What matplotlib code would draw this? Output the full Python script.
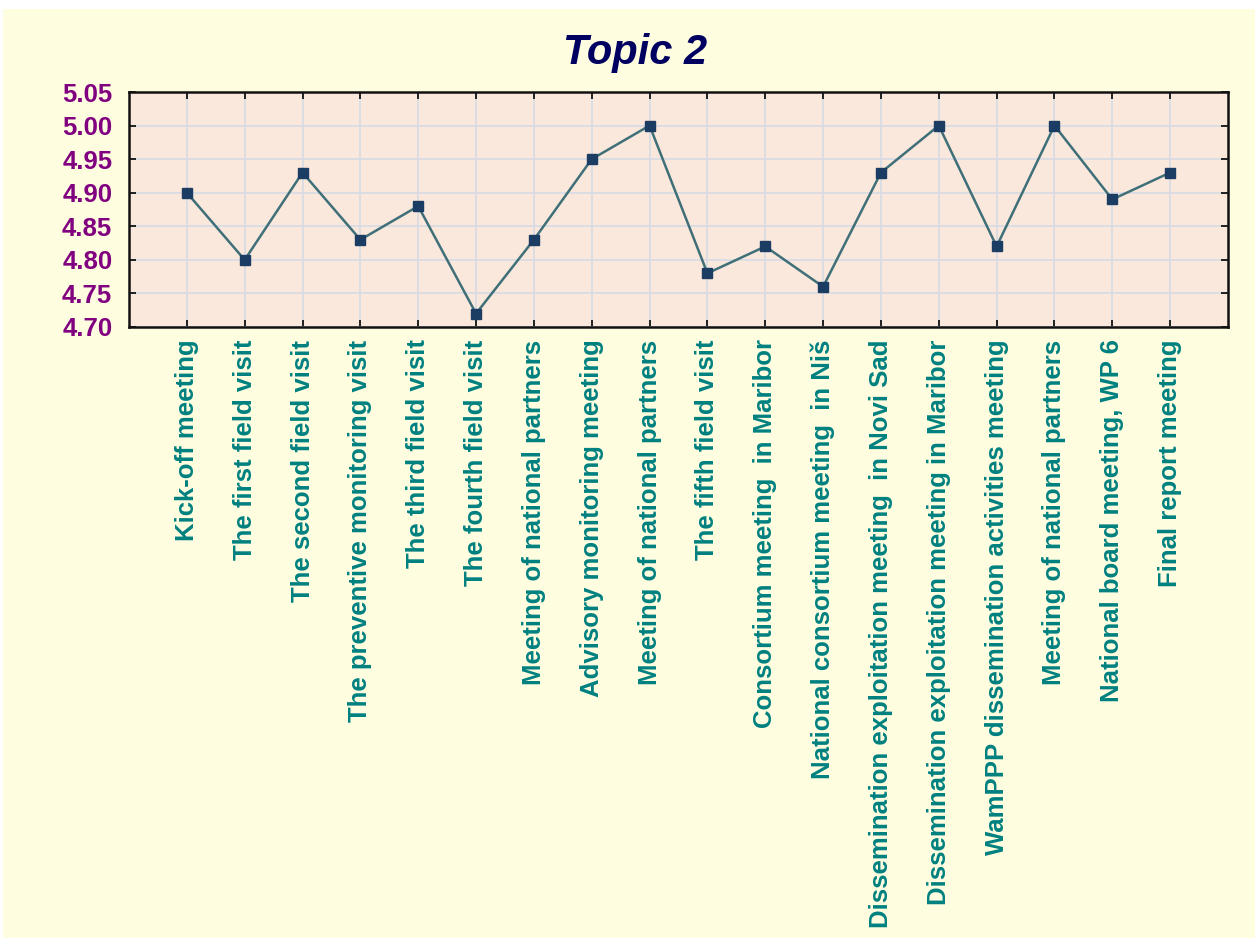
import matplotlib.pyplot as plt
import matplotlib.patches as patches

# data
events = [
    "Kick-off meeting",
    "The first field visit",
    "The second field visit",
    "The preventive monitoring visit",
    "The third field visit",
    "The fourth field visit",
    "Meeting of national partners",
    "Advisory monitoring meeting",
    "Meeting of national partners",
    "The fifth field visit",
    "Consortium meeting  in Maribor",
    "National consortium meeting  in Niš",
    "Dissemination exploitation meeting  in Novi Sad",
    "Dissemination exploitation meeting in Maribor",
    "WamPPP dissemination activities meeting",
    "Meeting of national partners",
    "National board meeting, WP 6",
    "Final report meeting",
]
scores = [4.90, 4.80, 4.93, 4.83, 4.88, 4.72, 4.83, 4.95, 5.00,
          4.78, 4.82, 4.76, 4.93, 5.00, 4.82, 5.00, 4.89, 4.93]
y_ticks = [4.70, 4.75, 4.80, 4.85, 4.90, 4.95, 5.00, 5.05]

plt.rcParams['font.family'] = ['Liberation Sans', 'DejaVu Sans']

fig = plt.figure(figsize=(12.55, 9.39), dpi=100, facecolor='white')
# yellow panel behind everything (small white margin top/left like the original)
fig.patches.append(patches.Rectangle((3 / 1255, 1 / 939), 1 - 3 / 1255, 1 - 10 / 939,
                                     transform=fig.transFigure, facecolor='#fefde0',
                                     edgecolor='none', zorder=-10))

ax = fig.add_axes([129 / 1255, 1 - 327 / 939, 1099 / 1255, 235 / 939])
ax.set_facecolor('#fbe8dc')

x = list(range(1, len(scores) + 1))
ax.plot(x, scores, color='#3f6f78', linewidth=1.8, marker='s', markersize=7,
        markerfacecolor='#1c3d63', markeredgecolor='#1c3d63', zorder=3)

ax.set_xlim(0, len(scores) + 1)
ax.set_ylim(4.70, 5.05)
ax.set_xticks(x)
ax.set_xticklabels(events, rotation=90, color='#008080', fontsize=18.5,
                   fontweight='bold', va='top')
ax.set_yticks(y_ticks)
ax.set_yticklabels([f"{v:.2f}" for v in y_ticks], color='#800080',
                   fontsize=18.5, fontweight='bold')

ax.grid(True, color='#d6dbe4', linewidth=1.2, zorder=1)
ax.set_axisbelow(True)
ax.tick_params(axis='x', direction='in', length=5, width=1.2, top=True, pad=9)
ax.tick_params(axis='y', direction='in', length=5, width=1.2, right=True, pad=12)
for sp in ax.spines.values():
    sp.set_linewidth(1.8)
    sp.set_color('#111111')

fig.text(635 / 1255, 1 - 64 / 939, "Topic 2", ha='center', va='baseline',
         fontsize=30, fontweight='bold', fontstyle='italic', color='#000060')

fig.savefig('out.png', dpi=100, facecolor=fig.get_facecolor())
